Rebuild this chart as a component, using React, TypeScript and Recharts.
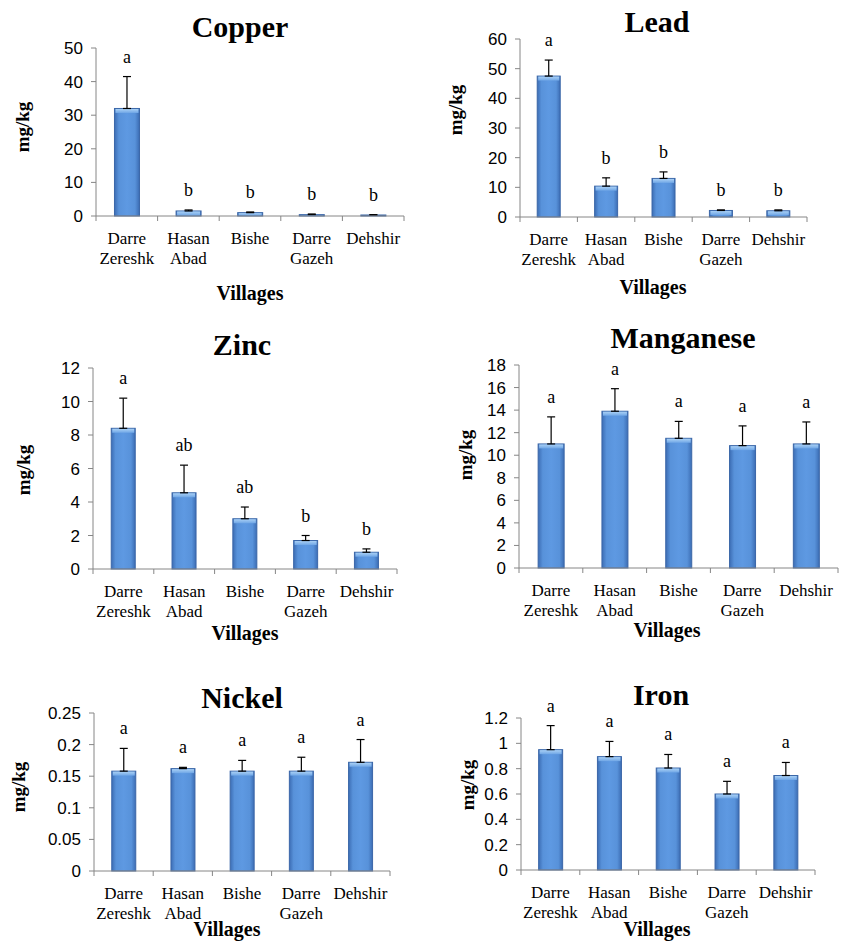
import React from "react";
import { BarChart, Bar, XAxis, YAxis, ErrorBar } from "recharts";

// villages (x categories)
const villages = ["Darre\nZereshk", "Hasan\nAbad", "Bishe", "Darre\nGazeh", "Dehshir"];

// Copper
const copperMeans = [32, 1.5, 1.0, 0.4, 0.3];
const copperErrs = [9.5, 0.3, 0.2, 0.2, 0.1];
const copperLetters = ["a", "b", "b", "b", "b"];
const copperTicks = [0, 10, 20, 30, 40, 50];

// Lead
const leadMeans = [47.5, 10.4, 13.0, 2.2, 2.1];
const leadErrs = [5.4, 2.8, 2.2, 0.2, 0.3];
const leadLetters = ["a", "b", "b", "b", "b"];
const leadTicks = [0, 10, 20, 30, 40, 50, 60];

// Zinc
const zincMeans = [8.4, 4.55, 3.0, 1.7, 1.0];
const zincErrs = [1.8, 1.65, 0.7, 0.3, 0.2];
const zincLetters = ["a", "ab", "ab", "b", "b"];
const zincTicks = [0, 2, 4, 6, 8, 10, 12];

// Manganese
const mnMeans = [11.0, 13.9, 11.5, 10.85, 11.0];
const mnErrs = [2.4, 2.0, 1.5, 1.75, 1.95];
const mnLetters = ["a", "a", "a", "a", "a"];
const mnTicks = [0, 2, 4, 6, 8, 10, 12, 14, 16, 18];

// Nickel
const niMeans = [0.158, 0.162, 0.158, 0.158, 0.172];
const niErrs = [0.036, 0.002, 0.017, 0.022, 0.036];
const niLetters = ["a", "a", "a", "a", "a"];
const niTicks = [0, 0.05, 0.1, 0.15, 0.2, 0.25];

// Iron
const feMeans = [0.95, 0.895, 0.805, 0.6, 0.746];
const feErrs = [0.19, 0.12, 0.107, 0.1, 0.103];
const feLetters = ["a", "a", "a", "a", "a"];
const feTicks = [0, 0.2, 0.4, 0.6, 0.8, 1, 1.2];

const SERIF = "'Liberation Serif', 'Times New Roman', serif";
const SANS = "'Liberation Sans', Arial, sans-serif";
const AXIS = "#868686";

// margins around the plot area inside each chart
const ML = 90;
const MT = 70;
const MR = 15;
const MB = 60;

type Box = { left: number; top: number; right: number; bottom: number };
type Pt = { x: number; y: number };

interface PanelProps {
  id: string;
  name: string;
  means: number[];
  errs: number[];
  letters: string[];
  ticks: number[];
  plot: Box;
  title: Pt;
  ylab: Pt;
  xlab: Pt;
}

function BarShape(props: any) {
  const { x, y, width, height, payload, gid } = props;
  if (width == null || height == null) return null;
  const pxPerUnit = payload.value ? height / payload.value : 0;
  const errTop = y - payload.e * pxPerUnit;
  const cap = Math.min(4, Math.max(height - 1, 0));
  return (
    <g>
      <rect x={x} y={y} width={width} height={height} fill={`url(#${gid})`} stroke="#3B67A8" strokeWidth={1} />
      {cap > 0 && (
        <rect x={x + 1} y={y + 0.5} width={width - 2} height={cap} fill={`url(#${gid}-top)`} />
      )}
      <text
        x={x + width / 2}
        y={errTop - 14}
        textAnchor="middle"
        fontFamily={SERIF}
        fontSize={18}
        fill="#000"
      >
        {payload.letter}
      </text>
    </g>
  );
}

function Panel({ id, name, means, errs, letters, ticks, plot, title, ylab, xlab }: PanelProps) {
  const data = villages.map((v, i) => ({
    village: v,
    value: means[i],
    err: [0, errs[i]],
    e: errs[i],
    letter: letters[i],
  }));
  const plotW = plot.right - plot.left;
  const plotH = plot.bottom - plot.top;
  const width = plotW + ML + MR;
  const height = plotH + MT + MB;
  const band = plotW / villages.length;
  const axisY = MT + plotH;

  const XTick = (p: any) => {
    const { x, payload, index } = p;
    const lines = String(payload.value).split("\n");
    return (
      <g>
        <line x1={x - band / 2} y1={axisY} x2={x - band / 2} y2={axisY + 5} stroke={AXIS} />
        {index === villages.length - 1 && (
          <line x1={x + band / 2} y1={axisY} x2={x + band / 2} y2={axisY + 5} stroke={AXIS} />
        )}
        {lines.map((l, k) => (
          <text
            key={k}
            x={x}
            y={axisY + 28 + k * 20}
            textAnchor="middle"
            fontFamily={SERIF}
            fontSize={17}
            fill="#000"
          >
            {l}
          </text>
        ))}
      </g>
    );
  };

  const gid = `grad-${id}`;

  return (
    <>
      <div
        style={{
          position: "absolute",
          left: title.x,
          top: title.y,
          transform: "translate(-50%, -50%)",
          fontFamily: SERIF,
          fontWeight: "bold",
          fontSize: 30,
          whiteSpace: "nowrap",
          lineHeight: 1,
        }}
      >
        {name}
      </div>
      <div
        style={{
          position: "absolute",
          left: ylab.x,
          top: ylab.y,
          transform: "translate(-50%, -50%) rotate(-90deg)",
          fontFamily: SERIF,
          fontWeight: "bold",
          fontSize: 19,
          whiteSpace: "nowrap",
          lineHeight: 1,
        }}
      >
        mg/kg
      </div>
      <div
        style={{
          position: "absolute",
          left: xlab.x,
          top: xlab.y,
          transform: "translate(-50%, -50%)",
          fontFamily: SERIF,
          fontWeight: "bold",
          fontSize: 20,
          whiteSpace: "nowrap",
          lineHeight: 1,
        }}
      >
        Villages
      </div>
      <div style={{ position: "absolute", left: plot.left - ML, top: plot.top - MT }}>
        <BarChart
          width={width}
          height={height}
          data={data}
          margin={{ top: MT, right: MR, bottom: 0, left: 30 }}
          barCategoryGap="30%"
          style={{ overflow: "visible" }}
        >
          <defs>
            <linearGradient id={gid} x1="0" y1="0" x2="1" y2="0">
              <stop offset="0%" stopColor="#3C6DB4" />
              <stop offset="18%" stopColor="#5892DA" />
              <stop offset="50%" stopColor="#5E99E2" />
              <stop offset="82%" stopColor="#5892DA" />
              <stop offset="100%" stopColor="#3C6DB4" />
            </linearGradient>
            <linearGradient id={`${gid}-top`} x1="0" y1="0" x2="0" y2="1">
              <stop offset="0%" stopColor="#A9D0F5" />
              <stop offset="100%" stopColor="#6FA6E6" />
            </linearGradient>
          </defs>
          <XAxis
            dataKey="village"
            height={MB}
            axisLine={{ stroke: AXIS }}
            tickLine={false}
            tick={<XTick />}
            interval={0}
          />
          <YAxis
            width={60}
            domain={[0, ticks[ticks.length - 1]]}
            ticks={ticks}
            interval={0}
            axisLine={{ stroke: AXIS }}
            tickLine={{ stroke: AXIS }}
            tickSize={5}
            tickMargin={8}
            tick={{ fontFamily: SANS, fontSize: 17, fill: "#000" }}
          />
          <Bar dataKey="value" isAnimationActive={false} shape={(p: any) => <BarShape {...p} gid={gid} />}>
            <ErrorBar dataKey="err" direction="y" width={4} stroke="#000" strokeWidth={1.2} isAnimationActive={false} />
          </Bar>
        </BarChart>
      </div>
    </>
  );
}

export default function App() {
  return (
    <div style={{ position: "absolute", left: 0, top: 0, width: 844, height: 941, background: "#fff", overflow: "hidden" }}>
      <Panel
        id="cu"
        name="Copper"
        means={copperMeans}
        errs={copperErrs}
        letters={copperLetters}
        ticks={copperTicks}
        plot={{ left: 96, top: 48, right: 404, bottom: 216 }}
        title={{ x: 240, y: 27 }}
        ylab={{ x: 22, y: 127 }}
        xlab={{ x: 250, y: 293 }}
      />
      <Panel
        id="pb"
        name="Lead"
        means={leadMeans}
        errs={leadErrs}
        letters={leadLetters}
        ticks={leadTicks}
        plot={{ left: 520, top: 39, right: 807, bottom: 217 }}
        title={{ x: 657, y: 22 }}
        ylab={{ x: 455, y: 110 }}
        xlab={{ x: 653, y: 287 }}
      />
      <Panel
        id="zn"
        name="Zinc"
        means={zincMeans}
        errs={zincErrs}
        letters={zincLetters}
        ticks={zincTicks}
        plot={{ left: 93, top: 368, right: 397, bottom: 569 }}
        title={{ x: 242, y: 345 }}
        ylab={{ x: 23, y: 470 }}
        xlab={{ x: 245, y: 633 }}
      />
      <Panel
        id="mn"
        name="Manganese"
        means={mnMeans}
        errs={mnErrs}
        letters={mnLetters}
        ticks={mnTicks}
        plot={{ left: 519, top: 365, right: 838, bottom: 568 }}
        title={{ x: 683, y: 338 }}
        ylab={{ x: 465, y: 455 }}
        xlab={{ x: 667, y: 630 }}
      />
      <Panel
        id="ni"
        name="Nickel"
        means={niMeans}
        errs={niErrs}
        letters={niLetters}
        ticks={niTicks}
        plot={{ left: 94, top: 713, right: 390, bottom: 871 }}
        title={{ x: 242, y: 698 }}
        ylab={{ x: 18, y: 787 }}
        xlab={{ x: 227, y: 929 }}
      />
      <Panel
        id="fe"
        name="Iron"
        means={feMeans}
        errs={feErrs}
        letters={feLetters}
        ticks={feTicks}
        plot={{ left: 521, top: 718, right: 815, bottom: 870 }}
        title={{ x: 661, y: 695 }}
        ylab={{ x: 467, y: 785 }}
        xlab={{ x: 657, y: 929 }}
      />
    </div>
  );
}
